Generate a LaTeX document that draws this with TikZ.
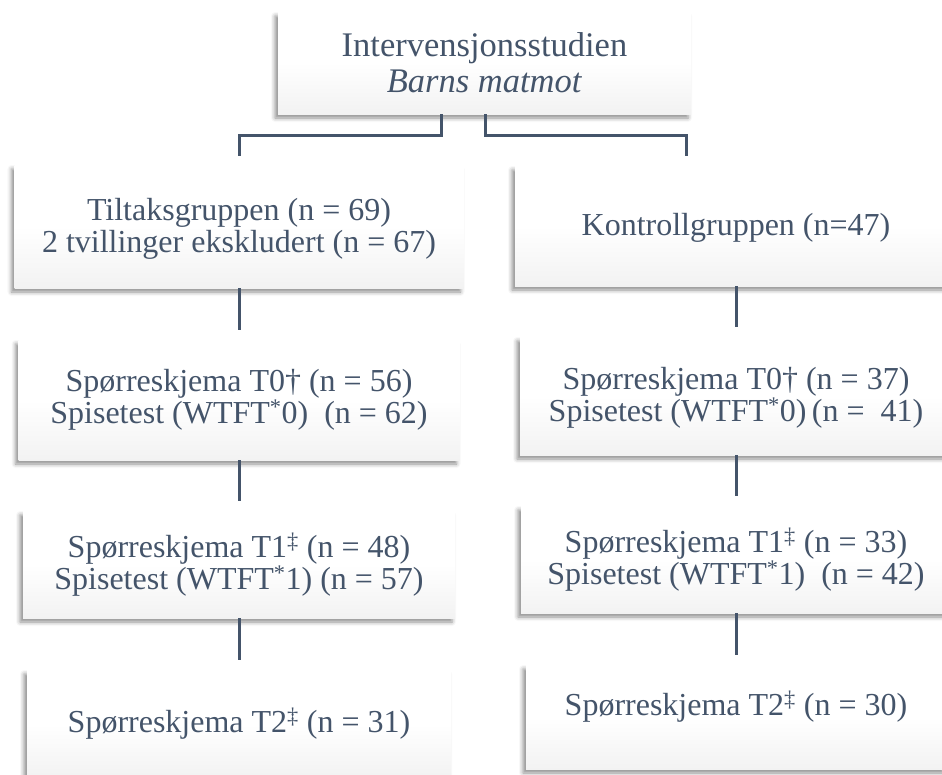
\documentclass[tikz,border=0pt]{standalone}
\usepackage{fontspec}
\setmainfont{Liberation Serif}
\usetikzlibrary{shadows.blur}
\definecolor{ink}{HTML}{44546A}
% soft grey-to-white fill, darker at the bottom edge
\pgfdeclareverticalshading{boxshade}{100bp}{color(0bp)=(black!10); color(50bp)=(white); color(100bp)=(white)}
% invisible strut that pushes a text block down by #1
\newcommand\dropby[1]{\rule{0pt}{\dimexpr\fontcharht\font`\(+2\dimexpr#1\relax\relax}}
\begin{document}
\begin{tikzpicture}[x=1pt,y=-1pt,
  box/.style={shade, shading=boxshade,
    blur shadow={shadow xshift=-3pt, shadow yshift=-4pt, shadow blur radius=4pt, shadow opacity=45},
    align=center, inner sep=0pt, text=ink, font=\fontsize{32}{32}\selectfont},
  link/.style={draw=ink, line width=3pt, shorten >=10pt}]
\useasboundingbox (0,0) rectangle (942,774);

% study header
\node[box, minimum width=413, minimum height=102, font=\fontsize{34.5}{36}\selectfont]
  (top) at (484.5,63) {Intervensjonsstudien\\\textit{Barns matmot}};

% intervention arm
\node[box, minimum width=449, minimum height=123] (L1) at (239,226.5)
  {\dropby{3pt}Tiltaksgruppen (n = 69)\\2 tvillinger ekskludert (n = 67)};
\node[box, minimum width=441, minimum height=120] (L2) at (239,400)
  {Spørreskjema T0† (n = 56)\\Spisetest (WTFT\textsuperscript{*}0)\ \ (n = 62)};
\node[box, minimum width=432, minimum height=107] (L3) at (239,564.5)
  {Spørreskjema T1\textsuperscript{‡} (n = 48)\\Spisetest (WTFT\textsuperscript{*}1) (n = 57)};
\node[box, minimum width=424, minimum height=108] (L4) at (239,724)
  {Spørreskjema T2\textsuperscript{‡} (n = 31)};

% control arm
\node[box, minimum width=442, minimum height=120] (R1) at (736,226)
  {\dropby{2pt}Kontrollgruppen (n=47)};
\node[box, minimum width=432, minimum height=118] (R2) at (736,396)
  {\dropby{2pt}Spørreskjema T0† (n = 37)\\Spisetest (WTFT\textsuperscript{*}0)\,(n = \ 41)};
\node[box, minimum width=430, minimum height=107] (R3) at (736,559.5)
  {Spørreskjema T1\textsuperscript{‡} (n = 33)\\Spisetest (WTFT\textsuperscript{*}1)\ \ (n = 42)};
\node[box, minimum width=420, minimum height=104] (R4) at (736,717)
  {\raisebox{10pt}[\height][\depth]{Spørreskjema T2\textsuperscript{‡} (n = 30)}};

% split from the header into the two arms
\draw[link, shorten >=9pt] ([xshift=-43.5]top.south) -- ++(0,21) -| (L1.north);
\draw[link] ([xshift=0.5]top.south) -- ++(0,21) -| ([xshift=-50]R1.north);

% follow-up chains
\draw[link] (L1.south) -- (L2.north);
\draw[link] (L2.south) -- (L3.north);
\draw[link] (L3.south) -- (L4.north);
\draw[link] (R1.south) -- (R2.north);
\draw[link] (R2.south) -- (R3.north);
\draw[link] (R3.south) -- (R4.north);
\end{tikzpicture}
\end{document}
